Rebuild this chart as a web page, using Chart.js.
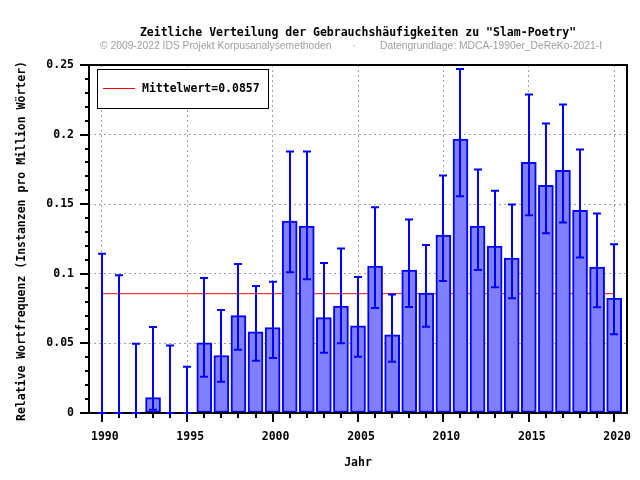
<!DOCTYPE html>
<html><head><meta charset="utf-8">
<script src="https://cdn.jsdelivr.net/npm/chart.js@4/dist/chart.umd.min.js"></script>
<style>html,body{margin:0;padding:0;background:#fff}canvas{display:block}</style>
</head><body>
<canvas id="c" width="640" height="480"></canvas>
<script>
const years = [1990,1991,1992,1993,1994,1995,1996,1997,1998,1999,2000,2001,2002,2003,2004,2005,2006,2007,2008,2009,2010,2011,2012,2013,2014,2015,2016,2017,2018,2019,2020];
const values = [0,0,0,0.011,0,0,0.0504,0.0413,0.0700,0.0583,0.0614,0.1378,0.1342,0.0685,0.0769,0.0626,0.1055,0.0561,0.1027,0.0862,0.1278,0.1967,0.1342,0.1199,0.1113,0.1800,0.1636,0.1743,0.1456,0.1048,0.0826];
const errLow = [0,0,0,0.0024,0,0,0.0260,0.0224,0.0454,0.0375,0.0396,0.1012,0.0960,0.0432,0.0501,0.0404,0.0755,0.0368,0.0762,0.0619,0.0948,0.1557,0.1027,0.0903,0.0824,0.1420,0.1292,0.1368,0.1117,0.0759,0.0566];
const errHigh = [0.1144,0.0990,0.0497,0.0618,0.0485,0.0332,0.0969,0.0740,0.1070,0.0912,0.0943,0.1879,0.1879,0.1077,0.1182,0.0977,0.1478,0.0852,0.1390,0.1206,0.1707,0.2471,0.1750,0.1597,0.1497,0.2288,0.2080,0.2216,0.1893,0.1433,0.1213];
const meanValue = 0.0857;
const xTickLabels = ['1990','1995','2000','2005','2010','2015','2020'];
const yTickLabels = ['0','0.05','0.1','0.15','0.2','0.25'];
const titleText = 'Zeitliche Verteilung der Gebrauchshäufigkeiten zu "Slam-Poetry"';
const subtitleLeft = '© 2009-2022 IDS Projekt Korpusanalysemethoden';
const subtitleDot = '·';
const subtitleRight = 'Datengrundlage: MDCA-1990er_DeReKo-2021-I';
const xTitle = 'Jahr';
const yTitle = 'Relative Wortfrequenz (Instanzen pro Million Wörter)';
const legendLabel = 'Mittelwert=' + meanValue;

const MONO = 'bold 11.5px "DejaVu Sans Mono"';
const BLUE = '#0000ff';

const decor = {
  id: 'decor',
  afterDatasetsDraw(chart) {
    const ctx = chart.ctx, a = chart.chartArea, xs = chart.scales.x, ys = chart.scales.y;
    ctx.save();
    ctx.strokeStyle = '#000'; ctx.lineWidth = 2;
    ctx.strokeRect(a.left, a.top, a.right - a.left, a.bottom - a.top);
    years.forEach(yr => {
      const px = Math.round(xs.getPixelForValue(yr));
      const len = yr % 5 === 0 ? 9 : 5;
      ctx.beginPath(); ctx.moveTo(px, a.bottom); ctx.lineTo(px, a.bottom + len); ctx.stroke();
    });
    for (let i = 0; i <= 25; i++) {
      const py = Math.round(ys.getPixelForValue(i / 100));
      const len = i % 5 === 0 ? 9 : 4;
      ctx.beginPath(); ctx.moveTo(a.left - len, py); ctx.lineTo(a.left, py); ctx.stroke();
    }
    ctx.strokeStyle = BLUE; ctx.lineWidth = 2;
    years.forEach((yr, i) => {
      const px = Math.round(xs.getPixelForValue(yr));
      const lo = ys.getPixelForValue(errLow[i]);
      const hi = ys.getPixelForValue(errHigh[i]);
      ctx.beginPath();
      ctx.moveTo(px, lo); ctx.lineTo(px, hi);
      ctx.moveTo(px - 4, hi); ctx.lineTo(px + 4, hi);
      ctx.moveTo(px - 4, lo); ctx.lineTo(px + 4, lo);
      ctx.stroke();
    });
    ctx.restore();
  },
  afterDraw(chart) {
    const ctx = chart.ctx, a = chart.chartArea;
    const cx = (a.left + a.right) / 2;
    ctx.save();
    ctx.fillStyle = '#000';
    ctx.font = MONO;
    ctx.textAlign = 'center'; ctx.textBaseline = 'middle';
    ctx.fillText(titleText, cx, 33);
    ctx.fillText(xTitle, cx, 463);
    ctx.save();
    ctx.translate(22, (a.top + a.bottom) / 2 + 2);
    ctx.rotate(-Math.PI / 2);
    ctx.fillText(yTitle, 0, 0);
    ctx.restore();
    ctx.font = '10.3px "Liberation Sans"';
    ctx.fillStyle = '#a0a0a0';
    ctx.textAlign = 'left';
    ctx.fillText(subtitleLeft, 100, 46);
    ctx.textAlign = 'center';
    ctx.fillText(subtitleDot, 354, 46);
    ctx.textAlign = 'left';
    ctx.fillText(subtitleRight, 380, 46);
    ctx.fillStyle = '#fff';
    ctx.fillRect(97, 69, 171, 39);
    ctx.strokeStyle = '#000'; ctx.lineWidth = 1;
    ctx.strokeRect(97.5, 69.5, 171, 39);
    ctx.strokeStyle = '#ff0000';
    ctx.beginPath(); ctx.moveTo(103, 88.5); ctx.lineTo(135, 88.5); ctx.stroke();
    ctx.fillStyle = '#000'; ctx.font = MONO; ctx.textAlign = 'left';
    ctx.fillText(legendLabel, 142, 89);
    ctx.restore();
  }
};

new Chart(document.getElementById('c'), {
  type: 'bar',
  data: {
    datasets: [
      {
        type: 'bar',
        data: years.map((y, i) => ({ x: y, y: values[i] })),
        backgroundColor: '#8080ff',
        borderColor: BLUE,
        borderWidth: c => (c.raw && c.raw.y > 0 ? 2 : 0),
        borderSkipped: false,
        barThickness: 15,
        order: 0
      },
      {
        type: 'line',
        data: [{ x: years[0], y: meanValue }, { x: years[years.length - 1], y: meanValue }],
        borderColor: '#ff0000',
        borderWidth: 1,
        pointRadius: 0,
        order: 1
      }
    ]
  },
  options: {
    responsive: false,
    devicePixelRatio: 1,
    animation: false,
    events: [],
    layout: { padding: { top: 65, right: 13, left: 0, bottom: 0 } },
    plugins: { legend: { display: false }, title: { display: false }, tooltip: { enabled: false } },
    scales: {
      x: {
        type: 'linear',
        offset: false,
        min: years[0] - 0.75,
        max: years[years.length - 1] + 0.75,
        afterFit: s => { s.height = 67; s.paddingLeft = 0; s.paddingRight = 0; },
        afterBuildTicks: s => { s.ticks = xTickLabels.map(t => ({ value: Number(t) })); },
        ticks: {
          autoSkip: false, maxRotation: 0, padding: 17, labelOffset: 3,
          color: '#000', font: { family: 'DejaVu Sans Mono', size: 11.5, weight: 'bold' },
          callback: (v, i) => xTickLabels[i]
        },
        grid: { color: '#a0a0a0', lineWidth: 1, drawTicks: false, offset: false },
        border: { display: false, dash: [2, 3] }
      },
      y: {
        type: 'linear',
        min: 0,
        max: Number(yTickLabels[yTickLabels.length - 1]),
        afterFit: s => { s.width = 89; s.paddingTop = 0; s.paddingBottom = 0; },
        afterBuildTicks: s => { s.ticks = yTickLabels.map(t => ({ value: Number(t) })); },
        ticks: {
          padding: 15,
          color: '#000', font: { family: 'DejaVu Sans Mono', size: 11.5, weight: 'bold' },
          callback: (v, i) => yTickLabels[i]
        },
        grid: {
          color: c => (c.tick && (c.tick.value <= 0 || c.tick.value >= 0.25) ? 'rgba(0,0,0,0)' : '#a0a0a0'),
          lineWidth: 1, drawTicks: false
        },
        border: { display: false, dash: [2, 3] }
      }
    }
  },
  plugins: [decor]
});
</script>
</body></html>
